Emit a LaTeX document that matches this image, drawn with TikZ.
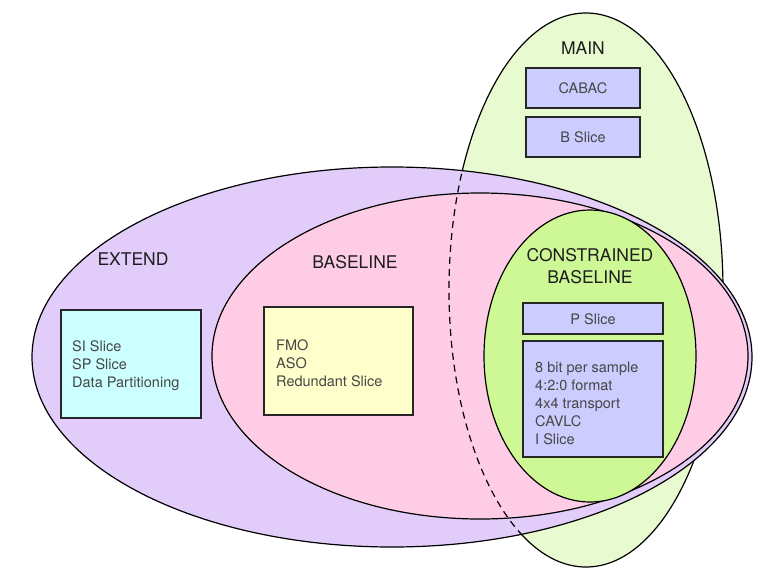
\documentclass[tikz,border=0pt]{standalone}
\usepackage{fontspec}
\setmainfont{TeX Gyre Heros}
\definecolor{mainfill}{RGB}{232,251,208}
\definecolor{extfill}{RGB}{226,204,250}
\definecolor{basefill}{RGB}{255,204,230}
\definecolor{consfill}{RGB}{206,247,150}
\definecolor{boxblue}{RGB}{204,204,255}
\definecolor{boxcyan}{RGB}{204,255,255}
\definecolor{boxyellow}{RGB}{255,255,204}
\definecolor{labtext}{RGB}{30,30,30}
\definecolor{boxtext}{RGB}{70,70,70}
\tikzset{
  setline/.style={draw=black, line width=1.2pt},
  featbox/.style={draw=black!85, line width=1.3pt},
  setlabel/.style={font=\fontsize{17.5}{22}\selectfont, text=labtext, align=center},
  boxlabel/.style={font=\fontsize{14.5}{18}\selectfont, text=boxtext},
  listtext/.style={font=\fontsize{14.5}{18}\selectfont, text=boxtext, align=left, anchor=west, inner sep=0pt}
}
\begin{document}
\begin{tikzpicture}[x=1pt,y=-1pt]
\useasboundingbox[fill=white] (0,0) rectangle (777,587);
% MAIN
\fill[mainfill] (586,290) ellipse [x radius=137pt, y radius=277pt];
\draw[setline] (586,290) ellipse [x radius=137pt, y radius=277pt];
% EXTEND
\fill[extfill] (392,357) ellipse [x radius=360pt, y radius=190pt];
\draw[setline] (392,357) ellipse [x radius=360pt, y radius=190pt];
% BASELINE
\fill[basefill] (480,356) ellipse [x radius=268pt, y radius=163pt];
\draw[setline] (480,356) ellipse [x radius=268pt, y radius=163pt];
% dashed part of MAIN
\begin{scope}
  \clip (392,357) ellipse [x radius=360pt, y radius=190pt];
  \clip (0,0) rectangle (586,587);
  \draw[setline, dash pattern=on 7pt off 5pt] (586,290) ellipse [x radius=137pt, y radius=277pt];
\end{scope}
% CONSTRAINED BASELINE
\fill[consfill] (590,356) ellipse [x radius=106pt, y radius=146pt];
\draw[setline] (590,356) ellipse [x radius=106pt, y radius=146pt];
% labels
\node[setlabel] (mainlab) at (583,48) {MAIN};
\node[setlabel] (extlab) at (133,259) {EXTEND};
\node[setlabel] (baselab) at (355,262) {BASELINE};
\node[setlabel] (conslab) at (590,266) {CONSTRAINED\\BASELINE};
% boxes
\draw[featbox, fill=boxblue] (526,68) rectangle (640,108);
\node[boxlabel] (cabac) at (583,88) {CABAC};
\draw[featbox, fill=boxblue] (526,117) rectangle (640,157);
\node[boxlabel] (bslice) at (583,137) {B Slice};
\draw[featbox, fill=boxblue] (523,303) rectangle (663,334);
\node[boxlabel] (pslice) at (593,319) {P Slice};
\draw[featbox, fill=boxblue] (523,341) rectangle (663,457);
\node[listtext] (conslist) at (535,403) {8 bit per sample\\4:2:0 format\\4x4 transport\\CAVLC\\I Slice};
\draw[featbox, fill=boxcyan] (61,310) rectangle (201,418);
\node[listtext] (extlist) at (72,366) {SI Slice\\SP Slice\\Data Partitioning};
\draw[featbox, fill=boxyellow] (264,307) rectangle (413,415);
\node[listtext] (baselist) at (276,363) {FMO\\ASO\\Redundant Slice};
\end{tikzpicture}
\end{document}
